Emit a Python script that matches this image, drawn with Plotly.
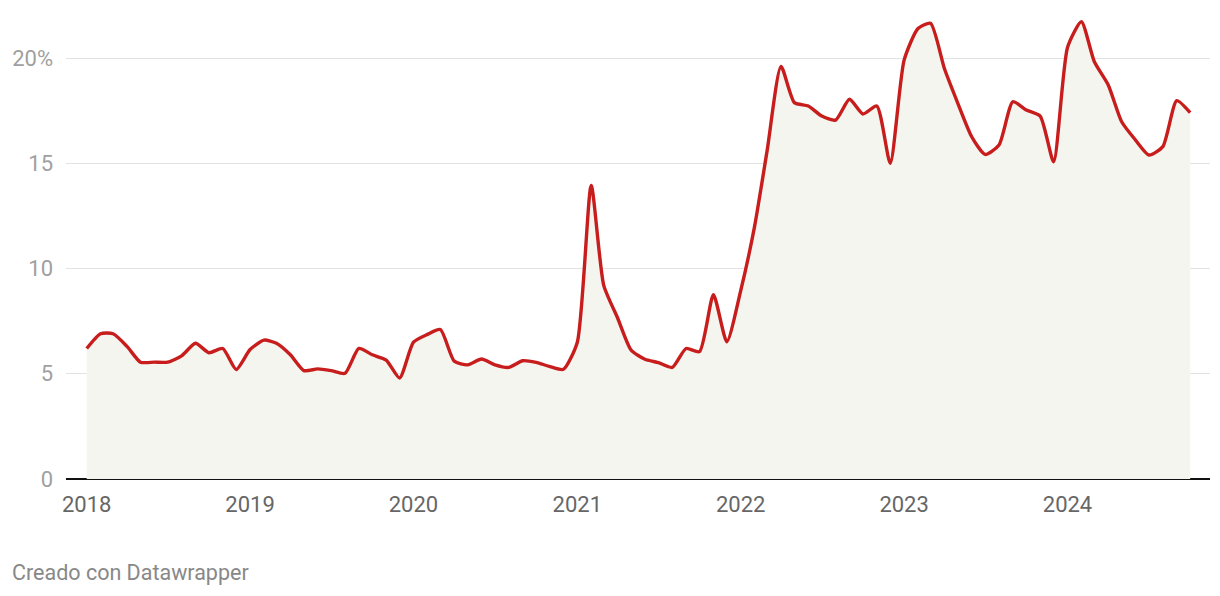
import pandas as pd
import plotly.graph_objects as go

months = pd.date_range("2018-01-01", "2024-10-01", freq="MS")

values = [
    6.2, 6.9, 6.9, 6.3, 5.55, 5.55, 5.55, 5.85, 6.45, 6.0, 6.2, 5.2,
    6.15, 6.6, 6.45, 5.9, 5.15, 5.23, 5.15, 5.02, 6.2, 5.9, 5.65, 4.8,
    6.5, 6.87, 7.1, 5.6, 5.42, 5.7, 5.42, 5.3, 5.62, 5.54, 5.34, 5.21,
    6.5, 13.95, 9.2, 7.65, 6.13, 5.69, 5.53, 5.3, 6.2, 6.05, 8.75, 6.52,
    8.95, 12.0, 15.6, 19.6, 17.88, 17.72, 17.24, 17.05, 18.04, 17.34, 17.72, 15.0,
    19.9, 21.4, 21.65, 19.5, 17.85, 16.26, 15.42, 15.87, 17.92, 17.53, 17.24, 15.07,
    20.5, 21.72, 19.82, 18.72, 16.97, 16.1, 15.39, 15.79, 17.97, 17.4,
]

year_ticks = [pd.Timestamp(f"{y}-01-01") for y in range(2018, 2025)]
year_labels = [str(y) for y in range(2018, 2025)]
y_ticks = [0, 5, 10, 15, 20]
y_labels = ["0", "5", "10", "15", "20%"]

W, H = 1220, 596
ML, MR, MT, MB = 66, 10, 4, 117
plot_w = W - ML - MR
plot_h = H - MT - MB

px_per_day = (1067.5 - 86.7) / (year_ticks[-1] - year_ticks[0]).days
x0 = year_ticks[0] - pd.Timedelta(days=(86.7 - ML) / px_per_day)
x1 = year_ticks[0] + pd.Timedelta(days=(W - MR - 86.7) / px_per_day)
px_per_unit = (479 - 58) / 20
y_top = plot_h / px_per_unit

fig = go.Figure()
fig.add_trace(go.Scatter(
    x=months, y=values, mode="lines",
    line=dict(color="#c71e1d", width=3.4, shape="spline", smoothing=0.6),
    fill="tozeroy", fillcolor="#f5f5ef",
    hoverinfo="skip",
))

fig.update_layout(
    width=W, height=H,
    margin=dict(l=ML, r=MR, t=MT, b=MB, pad=0),
    paper_bgcolor="white", plot_bgcolor="white",
    showlegend=False,
    font=dict(family="Roboto", color="#666666"),
    xaxis=dict(
        type="date", range=[x0, x1],
        tickvals=year_ticks, ticktext=year_labels,
        showgrid=False, zeroline=False, showline=False,
        ticks="", ticklabelstandoff=10,
        tickfont=dict(family="Roboto", size=22, color="#666666"),
    ),
    yaxis=dict(
        range=[0, y_top],
        tickvals=y_ticks, ticktext=y_labels,
        showgrid=True, gridcolor="#e2e2e2", gridwidth=1.2,
        zeroline=True, zerolinecolor="#111111", zerolinewidth=2,
        showline=False, ticks="", ticklabelstandoff=12,
        tickfont=dict(family="Roboto", size=22, color="#a0a0a0"),
    ),
    annotations=[dict(
        text="Creado con Datawrapper",
        xref="paper", yref="paper",
        x=(10 - ML) / plot_w, y=(479 - 572) / plot_h,
        xanchor="left", yanchor="middle", showarrow=False,
        font=dict(family="Roboto", size=21.5, color="#888888"),
    )],
)

fig.write_html("out.html")
